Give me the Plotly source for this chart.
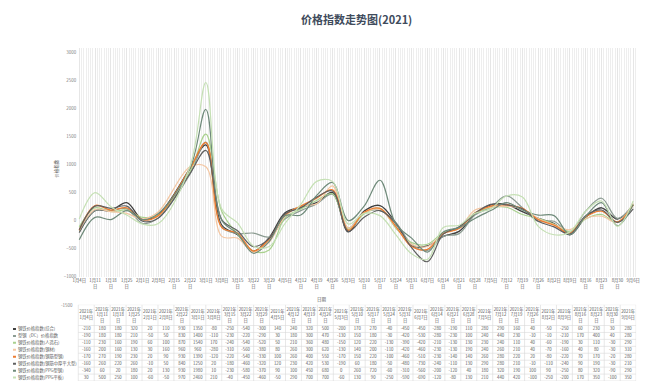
import plotly.graph_objects as go

# The page body adds an 8px margin, so the figure is drawn 8px right/down of the window corner.
OFF = 8
W, H = 651 - OFF, 389 - OFF


def fx(x):  # window pixel -> paper fraction
    return (x - OFF) / W


def fy(y):
    return 1 - (y - OFF) / H


dates = ["2021-01-04", "2021-01-11", "2021-01-18", "2021-01-25", "2021-02-01", "2021-02-08",
         "2021-02-22", "2021-03-01", "2021-03-08", "2021-03-15", "2021-03-22", "2021-03-29",
         "2021-04-05", "2021-04-12", "2021-04-19", "2021-04-26", "2021-05-03", "2021-05-10",
         "2021-05-17", "2021-05-24", "2021-05-31", "2021-06-07", "2021-06-14", "2021-06-21",
         "2021-06-28", "2021-07-05", "2021-07-12", "2021-07-19", "2021-07-26", "2021-08-02",
         "2021-08-09", "2021-08-16", "2021-08-23", "2021-08-30", "2021-09-06"]

tick_dates = ["2021-01-04", "2021-01-11", "2021-01-18", "2021-01-25", "2021-02-01", "2021-02-08",
              "2021-02-15", "2021-02-22", "2021-03-01", "2021-03-08", "2021-03-15", "2021-03-22",
              "2021-03-29", "2021-04-05", "2021-04-12", "2021-04-19", "2021-04-26", "2021-05-03",
              "2021-05-10", "2021-05-17", "2021-05-24", "2021-05-31", "2021-06-07", "2021-06-14",
              "2021-06-21", "2021-06-28", "2021-07-05", "2021-07-12", "2021-07-19", "2021-07-26",
              "2021-08-02", "2021-08-09", "2021-08-16", "2021-08-23", "2021-08-30", "2021-09-06"]

names = ["钢铁价格指数(综合)", "型钢（DC）价格指数", "钢铁价格指数(人造石)", "钢铁价格指数(钢材)",
         "钢铁价格指数(钢筋型钢)", "钢铁价格指数(钢筋中厚平大型)", "钢铁价格指数(PPG型钢)",
         "钢铁价格指数(PPG平板)"]

s1 = [-210, 180, 180, 320, 20, 110, 930, 1350, -80, -250, -540, -300, 140, 240, 320, 500, -200, 170,
      270, -40, -450, -450, -280, -190, 110, 280, 290, 160, 40, -50, -250, 60, 230, 30, 280]
s2 = [-190, 180, 180, 210, -50, 50, 830, 1400, -110, -230, -220, -290, 30, 180, 300, 470, -130, 150,
      180, -30, -420, -530, -280, -230, 100, 240, 440, 230, -10, -10, -210, 170, 400, 40, 280]
s3 = [-110, 230, 160, 190, 60, 100, 870, 1540, 170, -240, -540, -520, 50, 210, 360, 480, -150, 120,
      220, -130, -390, -420, -210, -130, 130, 230, 240, 110, 40, -60, -190, 30, 110, -30, 290]
s4 = [-160, 200, 160, 130, 30, 160, 960, 960, -280, -310, -560, -380, 80, 260, 300, 620, -130, 140,
      200, -110, -420, -460, -230, -130, 190, 240, 260, 210, 40, -70, -160, 40, 80, -30, 310]
s5 = [-170, 270, 190, 230, 20, 90, 930, 1390, -120, -220, -540, -330, 100, 260, 400, 550, -170, 150,
      220, -100, -460, -510, -230, -140, 140, 260, 280, 220, 20, -80, -220, 70, 170, -20, 280]
s6 = [-160, 260, 220, 260, -10, 50, 840, 1250, 20, -180, -460, -320, 120, 230, 420, 530, -190, 60,
      180, -50, -480, -730, -240, -110, 130, 290, 280, 210, -10, -110, -240, 90, 190, -30, 210]
s7 = [-340, 60, 20, 180, 20, 130, 930, 1980, 10, -230, -580, -370, 90, 100, 450, 680, 0, 260,
      720, -60, -310, -560, -200, -120, 40, 180, 320, 190, 100, 90, -250, 80, 320, -90, 290]
s8 = [30, 500, 250, 100, -60, -50, 970, 2460, 210, -40, -450, -460, -50, 290, 700, 700, -60, 130,
      90, -250, -590, -690, -120, -80, 130, 210, 440, 420, -100, -250, -200, 170, 350, -100, 350]

series = [s1, s2, s3, s4, s5, s6, s7, s8]
colors = ["#3f3f3f", "#8c9c92", "#a9d18e", "#f4c7a3", "#ed7d31", "#5f5f5f", "#6f8a7a", "#c5e0b4"]
widths = [1.3, 1.2, 1.2, 1.2, 1.3, 1.2, 1.2, 1.2]

FONT = "Noto Sans CJK SC"
TXT = "#595959"
GRID = "#d9d9d9"


def md(d):
    _, m, dd = d.split("-")
    return int(m), int(dd)


def tick_label(d):
    m, dd = md(d)
    return f"{m}月{dd}日" if dd < 10 else f"{m}月{dd}<br>日"


def head_label(d):
    m, dd = md(d)
    return f"2021年<br>{m}月{dd}日" if dd < 10 else f"2021年<br>{m}月{dd}<br>日"


fig = go.Figure()

for nm, ys, c, w in zip(names, series, colors, widths):
    fig.add_trace(go.Scatter(x=dates, y=ys, name=nm, mode="lines",
                             line=dict(color=c, width=w, shape="spline", smoothing=1.0),
                             showlegend=False, hoverinfo="skip", xaxis="x", yaxis="y"))

# ---- data table drawn on its own pixel-unit axes (x2 / y2) ----
TAB_TOP, TAB_BOT = 307, 384      # window pixels
TAB_RIGHT = 638
NAME_W = 74
COL_W = (TAB_RIGHT - NAME_W) / len(dates)
HEAD_H = 21
ROW_H = (TAB_BOT - TAB_TOP - HEAD_H) / len(series)

col_x = [NAME_W + COL_W * (j + 0.5) for j in range(len(dates))]
row_y = [HEAD_H + ROW_H * (i + 0.5) for i in range(len(series))]

fig.add_trace(go.Scatter(x=col_x, y=[HEAD_H / 2] * len(dates), mode="text",
                         text=[head_label(d) for d in dates], textposition="middle center",
                         textfont=dict(family=FONT, size=4.3, color=TXT),
                         showlegend=False, hoverinfo="skip", xaxis="x2", yaxis="y2"))
vx, vy, vt = [], [], []
for i, s in enumerate(series):
    for j, v in enumerate(s):
        vx.append(col_x[j]); vy.append(row_y[i]); vt.append(str(v))
fig.add_trace(go.Scatter(x=vx, y=vy, mode="text", text=vt, textposition="middle center",
                         textfont=dict(family=FONT, size=4.3, color=TXT),
                         showlegend=False, hoverinfo="skip", xaxis="x2", yaxis="y2"))
fig.add_trace(go.Scatter(x=[13] * len(names), y=row_y, mode="text", text=names,
                         textposition="middle right",
                         textfont=dict(family=FONT, size=4.3, color=TXT),
                         showlegend=False, hoverinfo="skip", xaxis="x2", yaxis="y2"))

shapes = []
for i, c in enumerate(colors):
    shapes.append(dict(type="line", xref="x2", yref="y2", x0=1.5, x1=11, y0=row_y[i], y1=row_y[i],
                       line=dict(color=c, width=2)))
for k in range(len(series) + 2):
    yy = 0 if k == 0 else HEAD_H + ROW_H * (k - 1)
    shapes.append(dict(type="line", xref="x2", yref="y2", x0=NAME_W, x1=TAB_RIGHT, y0=yy, y1=yy,
                       line=dict(color=GRID, width=0.6)))
for j in range(len(dates) + 1):
    xx = NAME_W + COL_W * j
    shapes.append(dict(type="line", xref="x2", yref="y2", x0=xx, x1=xx, y0=0,
                       y1=HEAD_H + ROW_H * len(series), line=dict(color=GRID, width=0.6)))

fig.update_layout(
    width=W, height=H,
    margin=dict(l=0, r=0, t=0, b=0),
    paper_bgcolor="white", plot_bgcolor="white",
    font=dict(family=FONT, color=TXT),
    showlegend=False,
    xaxis=dict(
        domain=[fx(73), fx(640)], type="date",
        range=["2021-01-03 03:00", "2021-09-08 04:30"],
        tickmode="array", tickvals=tick_dates,
        ticktext=[tick_label(d) for d in tick_dates],
        tickfont=dict(size=4.3, color=TXT, family=FONT),
        tickangle=0, ticks="",
        showgrid=True, gridcolor="#e6e6e6", gridwidth=0.6,
        minor=dict(dtick=86400000, showgrid=True, gridcolor="#eeeeee", gridwidth=0.6),
        showline=False, zeroline=False,
    ),
    yaxis=dict(
        domain=[fy(279), fy(48)],
        range=[-1000, 3080],
        tickvals=[-1000, -500, 0, 500, 1000, 1500, 2000, 2500, 3000],
        tickfont=dict(size=4.5, color="#7f7f7f", family=FONT),
        showgrid=False, zeroline=False, showline=False, ticks="",
    ),
    xaxis2=dict(domain=[0, fx(TAB_RIGHT)], range=[OFF, TAB_RIGHT],
                visible=False, fixedrange=True),
    yaxis2=dict(domain=[fy(TAB_BOT), fy(TAB_TOP)], range=[TAB_BOT - TAB_TOP, 0],
                visible=False, fixedrange=True),
    shapes=shapes,
    annotations=[
        dict(text="<b>价格指数走势图(2021)</b>", x=fx(355), y=fy(9), xref="paper", yref="paper",
             yanchor="top", showarrow=False, font=dict(size=11, color="#404b5c", family=FONT)),
        dict(text="价格指数", x=fx(47), y=fy(170), xref="paper", yref="paper",
             showarrow=False, textangle=-90, font=dict(size=4.5, color=TXT, family=FONT)),
        dict(text="日期", x=fx(320), y=fy(302), xref="paper", yref="paper", yanchor="middle",
             showarrow=False, font=dict(size=4.5, color=TXT, family=FONT)),
        dict(text="-1500", x=fx(71), y=fy(307), xref="paper", yref="paper", xanchor="right",
             yanchor="middle", showarrow=False, font=dict(size=4.5, color="#7f7f7f", family=FONT)),
    ],
)

fig.write_html("out.html")
